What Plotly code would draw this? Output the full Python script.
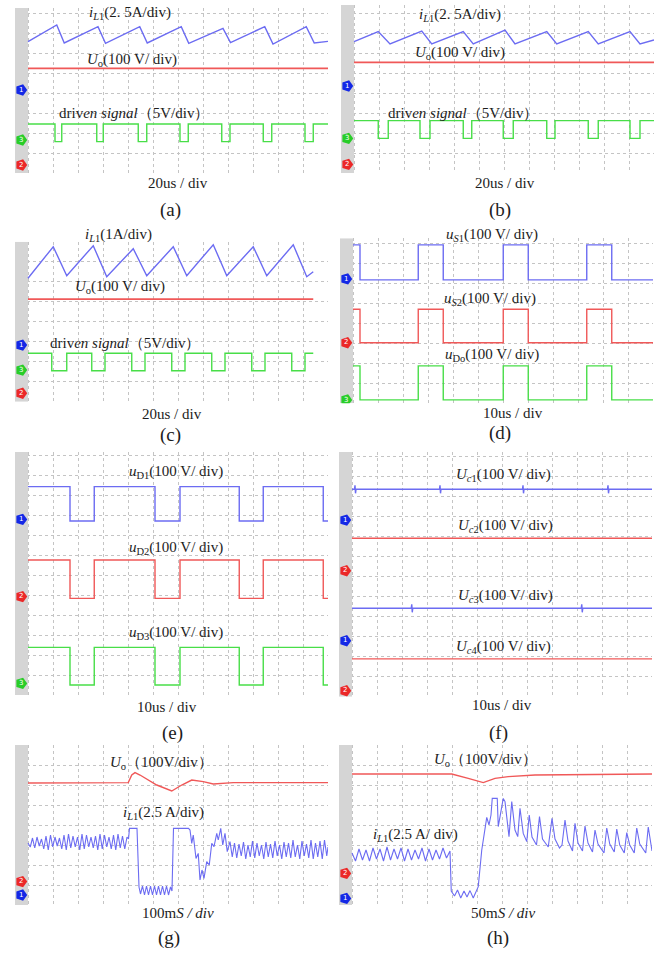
import plotly.graph_objects as go

FIG_W, FIG_H = 669, 954
DIV_X, DIV_Y = 25.0, 20.0          # pixels per screen division
N_DIV_X = 12
STRIP = 0.52                        # width of the grey channel strip, in divisions

BLUE = "rgb(108,108,242)"
RED = "rgb(240,88,88)"
GREEN = "rgb(72,222,72)"
MK = {"1": "rgb(20,40,230)", "2": "rgb(235,40,40)", "3": "rgb(40,205,40)"}
TXT = "#1c1c1c"
SERIF = "Liberation Serif, Times New Roman, serif"

# ===================== DATA (screen divisions) =====================
# (a)
a_il1_t = [0, 1.15, 1.45, 2.8, 3.1, 4.47, 4.77, 6.13, 6.43, 7.8, 8.1, 9.47, 9.8, 11.13, 11.45, 12]
a_il1_v = [6.57, 7.4, 6.5, 7.32, 6.48, 7.32, 6.5, 7.32, 6.48, 7.23, 6.52, 7.32, 6.45, 7.32, 6.5, 6.58]
a_uo_v = 5.23
a_drv_fall = [1.08, 2.75, 4.41, 6.08, 7.75, 9.41, 11.08]
a_drv_rise = [1.35, 3.01, 4.75, 6.41, 8.08, 9.75, 11.41]
a_drv_hi, a_drv_lo = 2.45, 1.57
a_markers = [("1", 4.15), ("3", 1.65), ("2", 0.4)]

# (b)
b_il1_t = [0, 0.97, 1.44, 2.71, 3.11, 4.37, 4.77, 6.04, 6.44, 7.71, 8.11, 9.37, 9.77, 11.04, 11.44, 12]
b_il1_v = [6.57, 7.07, 6.45, 7.1, 6.45, 7.07, 6.45, 7.15, 6.45, 7.07, 6.45, 7.07, 6.45, 7.07, 6.45, 6.65]
b_uo_v = 5.53
b_drv_fall = [0.97, 2.64, 4.37, 5.97, 7.71, 9.37, 11.04]
b_drv_rise = [1.37, 3.04, 4.71, 6.37, 8.04, 9.77, 11.44]
b_drv_hi, b_drv_lo = 2.62, 1.73
b_markers = [("1", 4.35), ("3", 1.73), ("2", 0.43)]

# (c)
c_il1_t = [0, 1.01, 1.55, 2.61, 3.15, 4.21, 4.75, 5.81, 6.35, 7.41, 7.95, 9.01, 9.55, 10.61, 11.15, 11.41]
c_il1_v = [6.17, 7.75, 6.3, 7.8, 6.25, 7.65, 6.3, 7.75, 6.3, 7.85, 6.3, 7.75, 6.3, 7.85, 6.25, 6.5]
c_uo_v = 5.13
c_drv_fall = [0.95, 2.55, 4.15, 5.75, 7.35, 8.95, 10.55]
c_drv_rise = [1.55, 3.08, 4.68, 6.28, 7.88, 9.48, 11.08]
c_drv_hi, c_drv_lo = 2.42, 1.55
c_end = 11.41
c_markers = [("1", 2.83), ("3", 1.58), ("2", 0.42)]

# (d)  switching edges (start high)
d_edges = [0.28, 2.61, 3.61, 6.01, 7.01, 9.35, 10.35]
d_us1 = (7.92, 6.17)
d_us2 = (4.7, 3.03)
d_udo = (1.87, 0.17)
d_markers = [("1", 6.22), ("2", 3.03), ("3", 0.17)]

# (e)
e_edges = [1.68, 2.65, 5.08, 6.08, 8.45, 9.41, 11.81]
e_ud1 = (10.42, 8.7)
e_ud2 = (6.75, 4.83)
e_ud3 = (2.38, 0.5)
e_markers = [("1", 8.78), ("2", 4.92), ("3", 0.58)]

# (f)
f_uc_levels = [10.37, 7.92, 4.42, 1.89]
f_uc_spikes = [[0.12, 3.52, 6.84, 10.24], [], [2.39, 9.19], []]
f_markers = [("1", 8.83), ("2", 6.3), ("1", 2.8), ("2", 0.3)]

# (g)
g_uo_pts = [(0, 6.1), (4.01, 6.12), (4.15, 6.5), (4.28, 6.62), (4.48, 6.5), (5.15, 6.0), (5.75, 5.7),
            (6.15, 6.0), (6.55, 6.25), (7.01, 6.17), (7.41, 6.05), (8.21, 6.12), (12, 6.12)]
g_il1_pts = [
    (0.00, 3.10), (0.09, 2.90), (0.18, 3.35), (0.27, 2.85), (0.36, 3.40), (0.45, 2.95), (0.54, 3.30),
    (0.63, 2.80), (0.72, 3.45), (0.81, 2.75), (0.90, 3.50), (0.99, 2.90), (1.08, 3.40), (1.17, 2.95),
    (1.26, 3.35), (1.35, 2.80), (1.44, 3.50), (1.53, 2.75), (1.62, 3.55), (1.71, 2.85), (1.80, 3.45),
    (1.89, 2.90), (1.98, 3.40), (2.07, 2.75), (2.16, 3.55), (2.25, 2.80), (2.34, 3.50), (2.43, 2.90),
    (2.52, 3.40), (2.61, 2.85), (2.70, 3.45), (2.79, 2.75), (2.88, 3.55), (2.97, 2.80), (3.06, 3.50),
    (3.15, 2.90), (3.24, 3.40), (3.33, 2.80), (3.42, 3.50), (3.51, 2.75), (3.60, 3.55), (3.69, 2.85),
    (3.78, 3.45), (3.87, 2.80), (3.96, 3.40),
    (4.02, 3.30), (4.06, 3.83), (4.36, 3.83), (4.44, 0.90), (4.50, 0.55), (4.58, 0.95), (4.66, 0.50),
    (4.74, 0.95), (4.82, 0.50), (4.90, 0.95), (4.98, 0.50), (5.06, 0.95), (5.14, 0.50), (5.22, 0.95),
    (5.30, 0.50), (5.38, 0.95), (5.46, 0.50), (5.54, 0.95), (5.62, 0.50), (5.70, 0.90), (5.76, 0.70),
    (5.82, 3.83), (6.42, 3.83),
    (6.48, 3.75), (6.55, 3.08), (6.61, 3.50), (6.72, 2.33), (6.81, 2.58), (6.88, 1.25), (6.96, 1.75),
    (7.04, 1.33), (7.15, 2.17), (7.25, 2.00), (7.35, 3.08), (7.44, 2.92), (7.55, 3.58), (7.61, 3.25),
    (7.71, 3.83), (7.79, 3.00), (7.88, 3.58), (7.97, 2.67), (8.08, 3.17),
    (8.17, 2.40), (8.26, 3.10), (8.35, 2.35), (8.44, 3.05), (8.53, 2.45), (8.62, 3.15), (8.71, 2.30),
    (8.80, 3.00), (8.89, 2.40), (8.98, 3.20), (9.07, 2.35), (9.16, 3.10), (9.25, 2.45), (9.34, 3.00),
    (9.43, 2.30), (9.52, 3.15), (9.61, 2.40), (9.70, 3.05), (9.79, 2.35), (9.88, 3.20), (9.97, 2.45),
    (10.06, 3.00), (10.15, 2.30), (10.24, 3.15), (10.33, 2.40), (10.42, 3.10), (10.51, 2.35),
    (10.60, 3.25), (10.69, 2.40), (10.78, 3.00), (10.87, 2.30), (10.96, 3.20), (11.05, 2.45),
    (11.14, 3.05), (11.23, 2.35), (11.32, 3.25), (11.41, 2.30), (11.50, 3.10), (11.59, 2.40),
    (11.68, 3.20), (11.77, 2.30), (11.86, 3.25), (11.95, 2.45), (12.00, 2.90)]
g_markers = [("2", 1.17), ("1", 0.5)]

# (h)
h_uo_pts = [(0, 6.55), (3.99, 6.55), (4.65, 6.33), (5.25, 6.12), (5.72, 6.33), (6.25, 6.42),
            (7.32, 6.5), (12, 6.55)]
h_il1_pts = [
    (0.00, 2.60), (0.14, 2.20), (0.28, 2.80), (0.42, 2.25), (0.56, 2.75), (0.70, 2.20), (0.84, 2.85),
    (0.98, 2.30), (1.12, 2.80), (1.26, 2.20), (1.40, 2.90), (1.54, 2.25), (1.68, 2.80), (1.82, 2.30),
    (1.96, 2.85), (2.10, 2.20), (2.24, 2.80), (2.38, 2.25), (2.52, 2.75), (2.66, 2.30), (2.80, 2.85),
    (2.94, 2.20), (3.08, 2.80), (3.22, 2.25), (3.36, 2.75), (3.50, 2.30), (3.64, 2.85), (3.78, 2.35),
    (3.92, 2.70),
    (3.97, 0.70), (4.10, 0.45), (4.22, 0.75), (4.35, 0.35), (4.48, 0.70), (4.60, 0.40), (4.72, 0.72),
    (4.85, 0.35), (4.97, 0.70), (5.05, 0.92),
    (5.19, 2.75), (5.33, 3.92), (5.39, 4.38), (5.48, 4.00), (5.56, 4.50), (5.61, 5.33), (5.81, 5.33),
    (5.85, 3.92), (5.95, 4.58), (6.05, 5.33), (6.12, 5.17), (6.23, 3.75), (6.28, 3.42), (6.39, 5.17),
    (6.52, 3.75), (6.63, 3.42), (6.72, 4.83), (6.85, 3.58), (6.99, 3.17), (7.09, 4.50), (7.20, 3.40),
    (7.38, 3.00), (7.50, 4.42), (7.62, 3.30), (7.85, 2.90), (8.00, 4.33), (8.12, 3.30), (8.30, 2.85),
    (8.40, 3.00), (8.52, 4.25), (8.64, 3.20), (8.82, 2.70), (8.92, 4.08), (9.04, 3.10), (9.22, 2.70),
    (9.32, 3.95), (9.44, 3.10), (9.62, 2.65), (9.72, 3.75), (9.84, 3.05), (10.08, 2.60), (10.19, 3.85),
    (10.31, 3.05), (10.49, 2.65), (10.59, 3.80), (10.71, 3.00), (10.89, 2.60), (10.99, 3.62),
    (11.11, 3.00), (11.29, 2.60), (11.39, 3.85), (11.51, 3.05), (11.75, 2.60), (11.85, 3.90),
    (11.97, 2.90), (12.00, 2.70)]
h_markers = [("2", 1.58), ("1", 0.33)]

# ===================== LAYOUT GEOMETRY (pixels) =====================
GEOM = {  # left edge of grid, top, bottom
    "a": (28, 8, 173), "b": (354, 5, 173),
    "c": (28, 241.7, 401.7), "d": (353, 238.3, 403.3),
    "e": (28, 452, 695), "f": (352, 452, 696.7),
    "g": (28, 745, 905), "h": (352, 745, 905),
}
ORDER = ["a", "b", "c", "d", "e", "f", "g", "h"]

fig = go.Figure()
layout_axes = {}
shapes = []
annotations = []


def ax_ids(p):
    i = ORDER.index(p) + 1
    s = "" if i == 1 else str(i)
    return "x" + s, "y" + s, "xaxis" + s, "yaxis" + s


for p in ORDER:
    x0, top, bot = GEOM[p]
    xid, yid, xname, yname = ax_ids(p)
    hdiv = (bot - top) / DIV_Y
    left = x0 - STRIP * DIV_X
    layout_axes[xname] = dict(domain=[left / FIG_W, (x0 + N_DIV_X * DIV_X) / FIG_W],
                              range=[-STRIP, N_DIV_X],
                              showgrid=True, gridcolor="#c4c4c4", griddash="dot", gridwidth=1,
                              dtick=1, tick0=0, showticklabels=False, zeroline=False,
                              showline=False, ticks="", anchor=yid, fixedrange=True)
    layout_axes[yname] = dict(domain=[1 - bot / FIG_H, 1 - top / FIG_H], range=[0, hdiv],
                              showgrid=True, gridcolor="#c4c4c4", griddash="dot", gridwidth=1,
                              dtick=1, tick0=0, showticklabels=False, zeroline=False,
                              showline=False, ticks="", anchor=xid, fixedrange=True)
    # grey channel strip at left of the grid (covers the grid, under the traces)
    shapes.append(dict(type="rect", xref=xid, yref=yid, x0=-STRIP, x1=0, y0=0, y1=hdiv,
                       fillcolor="#d5d5d5", line=dict(width=0), layer="between"))


def line(p, t, v, color, width=1.4):
    xid, yid, _, _ = ax_ids(p)
    fig.add_trace(go.Scatter(x=t, y=v, mode="lines", line=dict(color=color, width=width),
                             xaxis=xid, yaxis=yid, hoverinfo="skip", showlegend=False))


def pts(p, pairs, color, width=1.2):
    line(p, [q[0] for q in pairs], [q[1] for q in pairs], color, width)


def square(edges, hi, lo, end=12.0, start_high=True):
    t, v = [0.0], [hi if start_high else lo]
    high = start_high
    for e in edges:
        cur = hi if high else lo
        nxt = lo if high else hi
        t += [e, e]
        v += [cur, nxt]
        high = not high
    t.append(end)
    v.append(hi if high else lo)
    return t, v


def markers(p, lst):
    xid, yid, _, _ = ax_ids(p)
    fig.add_trace(go.Scatter(
        x=[-0.27] * len(lst), y=[m[1] for m in lst], mode="markers+text",
        text=[m[0] for m in lst], textposition="middle center",
        textfont=dict(color="white", size=7, family="DejaVu Sans"),
        marker=dict(symbol="pentagon", angle=90, size=12, color=[MK[m[0]] for m in lst],
                    line=dict(width=0)),
        xaxis=xid, yaxis=yid, hoverinfo="skip", showlegend=False))


def ann(text, px, py, size=15, color=TXT):
    annotations.append(dict(text=text, x=px / FIG_W, y=1 - py / FIG_H, xref="paper", yref="paper",
                            showarrow=False, xanchor="center", yanchor="middle",
                            font=dict(family=SERIF, size=size, color=color)))


# ---- (a)
line("a", a_il1_t, a_il1_v, BLUE)
line("a", [0, 12], [a_uo_v, a_uo_v], RED, 1.8)
t, v = square(sorted(a_drv_fall + a_drv_rise), a_drv_hi, a_drv_lo)
line("a", t, v, GREEN)
markers("a", a_markers)

# ---- (b)
line("b", b_il1_t, b_il1_v, BLUE)
line("b", [0, 12], [b_uo_v, b_uo_v], RED, 1.8)
t, v = square(sorted(b_drv_fall + b_drv_rise), b_drv_hi, b_drv_lo)
line("b", t, v, GREEN)
markers("b", b_markers)

# ---- (c)
line("c", c_il1_t, c_il1_v, BLUE)
line("c", [0, c_end], [c_uo_v, c_uo_v], RED, 1.8)
t, v = square(sorted(c_drv_fall + c_drv_rise), c_drv_hi, c_drv_lo, end=c_end)
line("c", t, v, GREEN)
markers("c", c_markers)

# ---- (d)
for lv, col in [(d_us1, BLUE), (d_us2, RED), (d_udo, GREEN)]:
    t, v = square(d_edges, lv[0], lv[1])
    line("d", t, v, col)
markers("d", d_markers)

# ---- (e)
for lv, col in [(e_ud1, BLUE), (e_ud2, RED), (e_ud3, GREEN)]:
    t, v = square(e_edges, lv[0], lv[1])
    line("e", t, v, col)
markers("e", e_markers)

# ---- (f)
for lvl, sp, col in zip(f_uc_levels, f_uc_spikes, [BLUE, RED, BLUE, RED]):
    t, v = [0.0], [lvl]
    for s in sp:
        t += [s - 0.02, s, s + 0.02, s + 0.04]
        v += [lvl, lvl + 0.2, lvl - 0.2, lvl]
    t.append(12.0)
    v.append(lvl)
    line("f", t, v, col)
markers("f", f_markers)

# ---- (g)
pts("g", g_uo_pts, RED, 1.4)
pts("g", g_il1_pts, BLUE, 1.1)
markers("g", g_markers)

# ---- (h)
pts("h", h_uo_pts, RED, 1.4)
pts("h", h_il1_pts, BLUE, 1.1)
markers("h", h_markers)

# ===================== TEXT =====================
IL1 = "<i>i</i><sub><i>L</i>1</sub>"
UO = "<i>U</i><sub>o</sub>"
DRV = "driv<i>en signal</i>（5V/div）"

ann(IL1 + "(2. 5A/div)", 130, 13)
ann(UO + "(100 V/ div)", 132, 60)
ann(DRV, 134, 113)
ann("20us / div", 178, 183)
ann("(a)", 170, 210, 19)

ann(IL1 + "(2. 5A/div)", 460, 15)
ann(UO + "(100 V/ div)", 460, 53)
ann(DRV, 463, 113)
ann("20us / div", 505, 183)
ann("(b)", 500, 210, 19)

ann(IL1 + "(1A/div)", 118, 235)
ann(UO + "(100 V/ div)", 120, 287)
ann(DRV, 125, 343)
ann("20us / div", 172, 414)
ann("(c)", 170, 435, 19)

ann("<i>u</i><sub><i>S</i>1</sub>(100 V/ div)", 492, 235)
ann("<i>u</i><sub><i>S</i>2</sub>(100 V/ div)", 490, 299)
ann("<i>u</i><sub>Do</sub>(100 V/ div)", 492, 355)
ann("10us / div", 513, 413)
ann("(d)", 500, 433, 19)

ann("<i>u</i><sub>D1</sub>(100 V/ div)", 176, 472)
ann("<i>u</i><sub>D2</sub>(100 V/ div)", 176, 548)
ann("<i>u</i><sub>D3</sub>(100 V/ div)", 176, 633)
ann("10us / div", 167, 707)
ann("(e)", 172, 733, 19)

ann("<i>U</i><sub><i>c</i>1</sub>(100 V/ div)", 503, 475)
ann("<i>U</i><sub><i>c</i>2</sub>(100 V/ div)", 505, 526)
ann("<i>U</i><sub><i>c</i>3</sub>(100 V/ div)", 505, 596)
ann("<i>U</i><sub><i>c</i>4</sub>(100 V/ div)", 503, 647)
ann("10us / div", 502, 705)
ann("(f)", 498, 733, 19)

ann(UO + "（100V/div）", 161, 763)
ann(IL1 + "(2.5 A/div)", 163, 813)
ann("100m<i>S / div</i>", 178, 913)
ann("(g)", 169, 938, 19)

ann(UO + "（100V/div）", 485, 760)
ann(IL1 + "(2.5 A/ div)", 415, 835)
ann("50m<i>S / div</i>", 503, 913)
ann("(h)", 498, 938, 19)

fig.update_layout(width=FIG_W, height=FIG_H, margin=dict(l=0, r=0, t=0, b=0),
                  paper_bgcolor="white", plot_bgcolor="rgba(0,0,0,0)", showlegend=False,
                  shapes=shapes, annotations=annotations, **layout_axes)
fig.write_html("out.html", config={"displayModeBar": False},
               post_script="document.body.style.margin='0';document.body.style.overflow='hidden';")
